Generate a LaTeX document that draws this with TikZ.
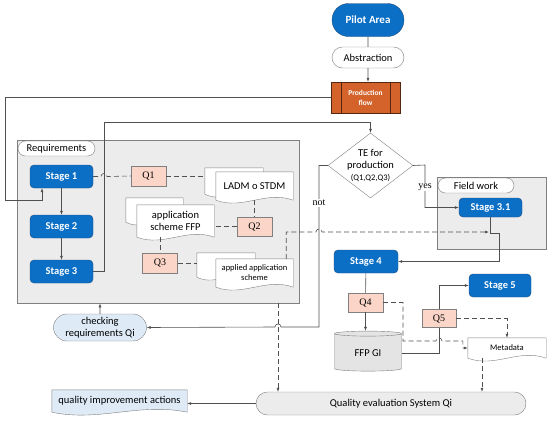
\documentclass[tikz,border=0pt]{standalone}
\usepackage{fontspec}
\setmainfont{Carlito}
\newfontfamily\qfont{Liberation Serif}
\usetikzlibrary{shapes.geometric,shapes.misc,arrows.meta,calc}

\definecolor{stageblue}{HTML}{0B6FC6}
\definecolor{stageedge}{HTML}{1F4E79}
\definecolor{qpink}{HTML}{FBD6C8}
\definecolor{boxgray}{HTML}{ECECEC}
\definecolor{cylgray}{HTML}{E4E4E4}
\definecolor{lightblue}{HTML}{DEEBF7}
\definecolor{prodorange}{HTML}{D4622B}
\definecolor{linegray}{HTML}{505050}
\definecolor{edgegray}{HTML}{808080}

\pgfdeclarelayer{back}
\pgfdeclarelayer{docs}
\pgfsetlayers{back,docs,main}

% page with a wavy lower edge round a named node
\newcommand{\docpage}[2]{%
  \path[#2] (#1.north west) -- (#1.north east) -- (#1.south east)
    .. controls ($(#1.south east)!0.35!(#1.south west)+(0,-10)$)
           and ($(#1.south east)!0.65!(#1.south west)+(0,10)$) .. (#1.south west) -- cycle;}

\tikzset{
  stage/.style={rectangle, rounded corners=4pt, draw=stageedge, fill=stageblue,
    text=white, font=\bfseries\fontsize{10.5}{12}\selectfont,
    minimum width=63pt, minimum height=23pt, inner sep=1pt},
  pill/.style={rounded rectangle, draw=edgegray, fill=white, inner sep=1pt, align=center},
  qbox/.style={rectangle, draw=edgegray, fill=qpink, font=\qfont\fontsize{10}{12}\selectfont,
    minimum width=35pt, minimum height=19pt, inner sep=1pt},
  group/.style={rectangle, draw=edgegray, fill=boxgray, line width=0.7pt},
  docnode/.style={rectangle, minimum width=77pt, minimum height=28pt, inner sep=1pt, align=center},
  docfill/.style={draw=edgegray, fill=white},
  lbl/.style={fill=white, font=\qfont\fontsize{10}{12}\selectfont, inner sep=1pt},
  conn/.style={draw=linegray, line width=0.6pt},
  arr/.style={conn, -{Latex[length=4pt,width=3pt]}},
  dsh/.style={conn, dash pattern=on 5pt off 3pt},
  darr/.style={dsh, -{Latex[length=4pt,width=3pt]}}
}

\begin{document}
\begin{tikzpicture}[x=1pt, y=-1pt, font=\fontsize{10.5}{12}\selectfont]
\useasboundingbox (0,0) rectangle (550,421);

% grey frames
\begin{pgfonlayer}{back}
  \node[group, minimum width=282pt, minimum height=163pt] (req) at (158,221.5) {};
  \node[group, minimum width=109pt, minimum height=72pt] (field) at (491.5,213) {};
\end{pgfonlayer}

% top
\node[pill, draw=stageedge, fill=stageblue, text=white, font=\bfseries\fontsize{11}{13}\selectfont,
  minimum width=74pt, minimum height=33pt] (pilot) at (368,20) {Pilot Area};
\node[pill, minimum width=74pt, minimum height=21pt] (abstr) at (368,57.5) {Abstraction};
\node[rectangle, draw=black!60!prodorange, fill=prodorange, text=white, align=center,
  font=\bfseries\fontsize{7.5}{10}\selectfont, minimum width=69pt, minimum height=31pt] (prod) at (365.5,97.5) {Production\\flow};
\draw[draw=black!60!prodorange] ($(prod.north west)+(10,0)$) -- ($(prod.south west)+(10,0)$)
  ($(prod.north east)+(-10,0)$) -- ($(prod.south east)+(-10,0)$);

% requirements
\node[pill, minimum width=79pt, minimum height=15pt] (reqlbl) at (56.5,148.5) {Requirements};
\node[stage] (stage1) at (61.5,176.5) {Stage 1};
\node[stage] (stage2) at (61.5,226.5) {Stage 2};
\node[stage] (stage3) at (61.5,271.5) {Stage 3};
\node[qbox, minimum height=20pt] (q1) at (148.5,176) {Q1};
\node[qbox] (q2) at (254.5,226.5) {Q2};
\node[qbox, minimum height=20pt] (q3) at (160,263) {Q3};

\node[docnode] (ladm) at (254.5,186) {LADM o STDM};
\node[docnode, minimum width=58pt, minimum height=26pt, anchor=north west] (ladmb) at ($(ladm.north west)+(-11,-4)$) {};
\node[docnode, minimum height=32pt] (appffp) at (175.5,221) {application\\scheme FFP};
\node[docnode, minimum width=57pt, minimum height=24pt, anchor=north west] (appffpb) at ($(appffp.north west)+(-11,-7)$) {};
\node[docnode, font=\fontsize{8.5}{10}\selectfont] (applied) at (254.5,273) {applied application\\scheme};
\node[docnode, minimum width=58pt, minimum height=24pt, anchor=north west] (appliedb) at ($(applied.north west)+(-19,-6)$) {};

% decision
\node[diamond, draw=edgegray, fill=white, aspect=1.3, inner sep=-3pt, align=center,
  minimum width=85pt, minimum height=65pt] (te) at (370.5,165.5)
  {TE for\\production\\{\fontsize{8.5}{10}\selectfont(Q1,Q2,Q3)}};

% field work and later stages
\node[pill, minimum width=78pt, minimum height=15pt] (fieldlbl) at (476,185.5) {Field work};
\node[stage, minimum height=19pt] (stage31) at (490.5,207.5) {Stage 3.1};
\node[stage, minimum width=64pt] (stage4) at (366,261.5) {Stage 4};
\node[stage, minimum width=62pt] (stage5) at (500,285.5) {Stage 5};
\node[qbox] (q4) at (365.5,302.5) {Q4};
\node[qbox, minimum width=34pt, minimum height=18pt] (q5) at (439,318.5) {Q5};
\node[cylinder, shape border rotate=90, aspect=0.15, draw=edgegray, fill=cylgray,
  minimum width=67pt, minimum height=40pt] (ffpgi) at (368,353) {FFP GI};
\node[docnode, minimum width=78pt, minimum height=20pt, font=\fontsize{8.5}{10}\selectfont] (metadata) at (507,348) {Metadata};

% bottom
\node[pill, fill=lightblue, minimum width=95pt, minimum height=27pt] (check) at (100,327.5) {checking\\requirements Qi};
\node[docnode, minimum width=135pt, minimum height=22pt] (qimp) at (119.5,401) {quality improvement actions};
\node[pill, fill=boxgray, minimum width=272pt, minimum height=23pt] (qeval) at (391,403.5) {Quality evaluation System Qi};

\begin{pgfonlayer}{docs}
  \docpage{ladmb}{docfill}
  \docpage{ladm}{docfill}
  \docpage{appffpb}{docfill}
  \docpage{appffp}{docfill}
  \docpage{appliedb}{docfill}
  \docpage{applied}{docfill}
  \docpage{metadata}{docfill}
  \docpage{qimp}{draw=edgegray, fill=lightblue}
\end{pgfonlayer}

% routing points
\coordinate (pfcorner) at (5,200);
\coordinate (s3up) at (104,122);
\coordinate (notc) at (319,327);
\coordinate (yesc) at (425,165);
\coordinate (fwend) at (489,232);
\coordinate (s31c) at (499,233);
\coordinate (rqx) at (278,303);
\coordinate (q4c) at (403,341);
\coordinate (mdx) at ($(metadata.south)+(-25,0)$);

% solid connectors
\draw[conn] (pilot) -- (abstr);
\draw[arr] (abstr) -- (abstr |- prod.north);
\draw[arr] (prod.west) -| (pfcorner) -| ($(stage1.south)+(-19.5,0)$);
\draw[arr] (stage1) -- (stage2);
\draw[arr] (stage2) -- (stage3);
\draw[arr] (stage3.east) -| (s3up) -| (te.north);
\draw[arr] (te.east) -- (yesc) |- (stage31.west);
\draw[arr] (te.west) -| (notc) -- ($(notc -| rqx)+(3,0)$)
  .. controls +(0,-4) and +(0,-4) .. ++(-6,0) -- (check.east);
\draw[arr] (stage31.south) |- (s31c) |- (stage4.east);
\draw[conn] (stage4) -- (q4);
\draw[arr] (q4) -- (q4 |- ffpgi.north);
\draw[conn] (ffpgi.east) -| (q5.south);
\draw[arr] (q5.north) |- (stage5.west);
\draw[arr] (check) -- (check |- req.south);
\draw[arr] (qeval.west) -- (qeval.west -| qimp.east);
\node[lbl] (yeslbl) at (425,187) {yes};
\node[lbl] (notlbl) at (319,203) {not};

% dashed connectors
\draw[dsh] (stage1.east) -- ($(stage1.east -| s3up)+(-3,0)$)
  .. controls +(0,-4) and +(0,-4) .. ++(6,0) -- (q1.west);
\draw[dsh] (q1.east) -- (q1.east -| ladmb.west);
\draw[dsh] (ladm.south) -- (q2.north);
\draw[dsh] (q2.west) -- (q2.west -| appffp.east);
\draw[dsh] (q3.north |- appffp.south) -- (q3.north);
\draw[dsh] (q3.east) -- (q3.east -| appliedb.west);
\draw[darr] ($(applied.north east)+(-7,0)$) |- ($(fwend -| notc)+(-3,0)$)
  .. controls +(0,-4) and +(0,-4) .. ++(6,0) -- (fwend);
\draw[darr] (rqx) -- (rqx |- qeval.north);
\draw[darr] (q4.east) -| (q4c) -- ($(q4c -| q5)+(-3,0)$)
  .. controls +(0,-4) and +(0,-4) .. ++(6,0) -| ($(metadata.west)+(-5,0)$) -- (metadata.west);
\draw[darr] (q5.east) -| (metadata.north);
\draw[darr] (mdx) -- (mdx |- qeval.north);
\end{tikzpicture}
\end{document}
